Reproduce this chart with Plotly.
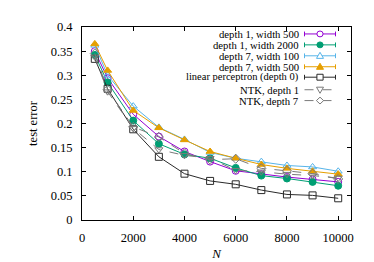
import plotly.graph_objects as go

N = [500, 1000, 2000, 3000, 4000, 5000, 6000, 7000, 8000, 9000, 10000]

d1_w500 = [0.350, 0.294, 0.219, 0.173, 0.142, 0.121, 0.102, 0.095, 0.089, 0.084, 0.079]
d1_w2000 = [0.342, 0.285, 0.206, 0.158, 0.136, 0.128, 0.108, 0.092, 0.086, 0.079, 0.071]
d7_w100 = [0.362, 0.300, 0.236, 0.192, 0.167, 0.140, 0.128, 0.121, 0.113, 0.110, 0.101]
d7_w500 = [0.365, 0.310, 0.227, 0.191, 0.166, 0.142, 0.128, 0.115, 0.107, 0.101, 0.095]
linear = [0.334, 0.272, 0.188, 0.131, 0.096, 0.081, 0.074, 0.062, 0.053, 0.051, 0.045]
ntk_d1 = [0.338, 0.266, 0.190, 0.146, 0.134, 0.128, 0.103, 0.100, 0.095, 0.092, 0.087]
ntk_d7 = [0.345, 0.270, 0.193, 0.172, 0.138, 0.125, 0.127, 0.107, 0.102, 0.096, 0.085]

x_ticks = [0, 2000, 4000, 6000, 8000, 10000]
x_ticklabels = ["0", "2000", "4000", "6000", "8000", "10000"]

series = [
    ("depth 1, width 500", d1_w500, "#9400d3", "circle-open", "solid"),
    ("depth 1, width 2000", d1_w2000, "#009e73", "circle", "solid"),
    ("depth 7, width 100", d7_w100, "#56b4e9", "triangle-up-open", "solid"),
    ("depth 7, width 500", d7_w500, "#e69f00", "triangle-up", "solid"),
    ("linear perceptron (depth 0)", linear, "#2a2a2a", "square-open", "solid"),
    ("NTK, depth 1", ntk_d1, "#7a7a7a", "triangle-down-open", "dash"),
    ("NTK, depth 7", ntk_d7, "#7a7a7a", "diamond-open", "dash"),
]

font = "Liberation Serif, Times New Roman, serif"

W, H = 374, 262
ML, MR, MT, MB = 74, 31, 14, 45
PW, PH = W - ML - MR, H - MT - MB


def px(x):
    return (x - ML) / PW


def py(y):
    return 1 - (y - MT) / PH


fig = go.Figure()
for name, ys, color, sym, dash in series:
    fig.add_trace(go.Scatter(
        x=N, y=ys, name=name, mode="lines+markers", showlegend=False,
        line=dict(color=color, width=1, dash=dash),
        marker=dict(symbol=sym, size=7, color=color, line=dict(color=color, width=1)),
    ))

# gnuplot-style key: text right-aligned, sample to the right
shapes = []
annotations = []
key_text_right = 291
key_x0, key_x1 = 296.5, 327.5
key_xc = (key_x0 + key_x1) / 2
key_rows = [21.3, 32.8, 44.3, 55.8, 66.8, 80.0, 91.4]
key_sizes = [10.7, 10.7, 10.7, 10.7, 10.5, 10.7, 10.7]
r = 3.1
for i, (name, ys, color, sym, dash) in enumerate(series):
    yc = key_rows[i]
    annotations.append(dict(
        x=px(key_text_right), y=py(yc), xref="paper", yref="paper",
        text=name, showarrow=False, xanchor="right", yanchor="middle",
        borderpad=0, borderwidth=0,
        font=dict(family=font, size=key_sizes[i], color="black"),
    ))
    lc = color
    shapes.append(dict(type="line", xref="paper", yref="paper",
                       x0=px(key_x0), x1=px(key_x1), y0=py(yc), y1=py(yc),
                       line=dict(color=lc, width=1, dash="dash" if dash == "dash" else "solid")))
    if dash != "dash":
        for xe in (key_x0, key_x1):
            shapes.append(dict(type="line", xref="paper", yref="paper",
                               x0=px(xe), x1=px(xe), y0=py(yc - 2.5), y1=py(yc + 2.5),
                               line=dict(color=lc, width=1)))
    filled = not sym.endswith("open")
    fill = color if filled else "white"
    if sym.startswith("circle"):
        shapes.append(dict(type="circle", xref="paper", yref="paper",
                           x0=px(key_xc - r), x1=px(key_xc + r),
                           y0=py(yc - r), y1=py(yc + r),
                           line=dict(color=color, width=1), fillcolor=fill))
    elif sym.startswith("square"):
        shapes.append(dict(type="rect", xref="paper", yref="paper",
                           x0=px(key_xc - r), x1=px(key_xc + r),
                           y0=py(yc - r), y1=py(yc + r),
                           line=dict(color=color, width=1), fillcolor=fill))
    else:
        if sym.startswith("triangle-up"):
            pts = [(key_xc, yc - r - 0.6), (key_xc - r - 0.4, yc + r - 0.4), (key_xc + r + 0.4, yc + r - 0.4)]
        elif sym.startswith("triangle-down"):
            pts = [(key_xc, yc + r + 0.6), (key_xc - r - 0.4, yc - r + 0.4), (key_xc + r + 0.4, yc - r + 0.4)]
        else:
            pts = [(key_xc, yc - r - 0.5), (key_xc + r + 0.5, yc), (key_xc, yc + r + 0.5), (key_xc - r - 0.5, yc)]
        path = "M " + " L ".join(f"{px(a):.5f},{py(b):.5f}" for a, b in pts) + " Z"
        shapes.append(dict(type="path", xref="paper", yref="paper", path=path,
                           line=dict(color=color, width=1), fillcolor=fill))

axis_common = dict(
    showline=True, linecolor="black", linewidth=1, mirror="ticks",
    ticks="inside", ticklen=4, tickcolor="black", showgrid=False, zeroline=False,
    tickfont=dict(family=font, size=12.5, color="black"),
)

fig.update_layout(
    width=W, height=H,
    margin=dict(l=ML, r=MR, t=MT, b=MB),
    paper_bgcolor="white", plot_bgcolor="white",
    font=dict(family=font, size=12, color="black"),
    showlegend=False,
    xaxis=dict(range=[0, 10500], tickvals=x_ticks, ticktext=x_ticklabels,
               ticklabelstandoff=6,
               title=dict(text="<i>N</i>", font=dict(family=font, size=13), standoff=4),
               **axis_common),
    yaxis=dict(range=[0, 0.4], dtick=0.05, ticklabelstandoff=6,
               title=dict(text="test error", font=dict(family=font, size=12.5), standoff=10),
               **axis_common),
    shapes=shapes,
    annotations=annotations,
)

fig.write_html("out.html")
